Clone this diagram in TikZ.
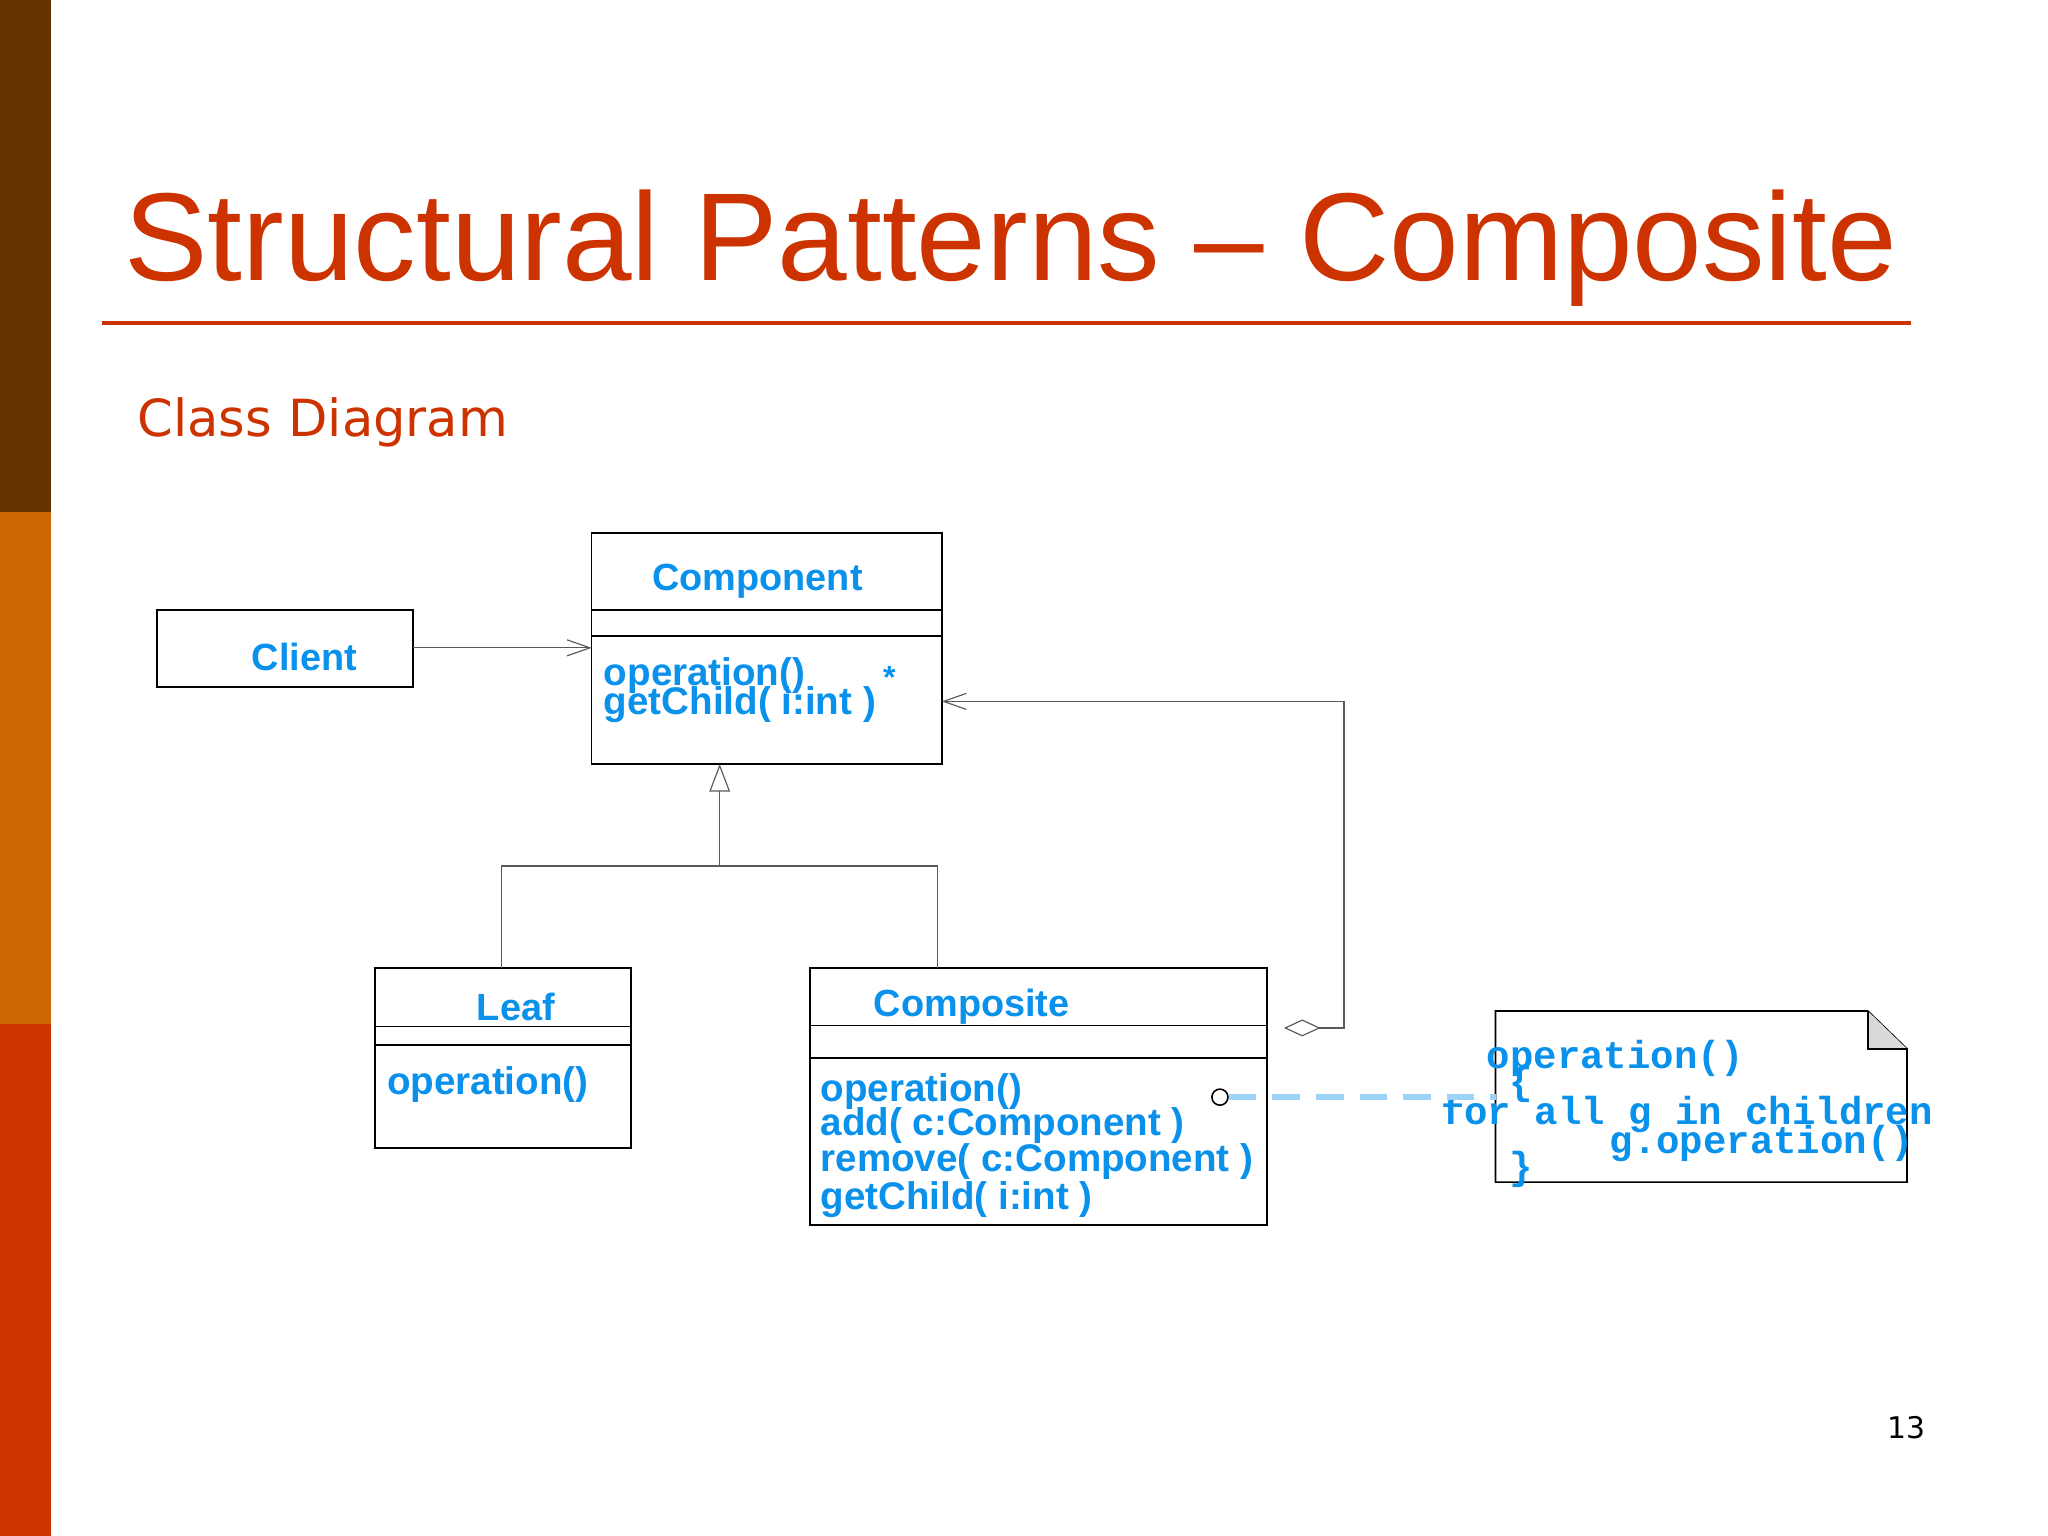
\documentclass[tikz,border=0pt]{standalone}
\usepackage{fontspec}
\setmainfont{Liberation Sans}
\newfontfamily\dejavu{DejaVu Sans}
\newfontfamily\mono{Liberation Mono}
\usetikzlibrary{arrows.meta}
\definecolor{umlblue}{RGB}{10,145,235}
\definecolor{titlered}{RGB}{204,51,0}
\definecolor{barbrown}{RGB}{102,51,0}
\definecolor{barorange}{RGB}{204,102,0}
\tikzset{
  cls/.style={draw=black,line width=0.7pt},
  clsname/.style={text=umlblue,font=\fontsize{16.5}{18}\selectfont\bfseries},
  op/.style={text=umlblue,font=\fontsize{16.8}{18}\selectfont\bfseries,anchor=base west,inner sep=0pt},
  conn/.style={draw=black!65,line width=0.5pt},
  note/.style={text=umlblue,font=\mono\fontsize{17}{18}\selectfont\bfseries,anchor=base west,inner sep=0pt}
}
\begin{document}
\begin{tikzpicture}[x=0.02cm,y=-0.02cm]
\useasboundingbox (0,0) rectangle (1568,1176);
\fill[white] (0,0) rectangle (1568,1176);
\fill[barbrown] (0,0) rectangle (39,392);
\fill[barorange] (0,392) rectangle (39,784);
\fill[titlered] (0,784) rectangle (39,1176);
\node[anchor=base west,inner sep=0pt,text=titlered,font=\fontsize{54.5}{60}\selectfont] (title) at (95,215) {Structural Patterns – Composite};
\draw[titlered,line width=1.7pt] (78,247) -- (1463,247);
\node[anchor=base west,inner sep=0pt,text=titlered,font=\dejavu\fontsize{22.3}{26}\selectfont] (sub) at (105,334) {Class Diagram};
% Component
\draw[cls] (453,408) rectangle (721,585);
\draw[cls] (453,467) -- (721,467) (453,487) -- (721,487);
\node[clsname] (compname) at (580,445) {Component};
\node[op] (c1) at (462,525) {operation()};
\node[op] (c2) at (462,547) {getChild( i:int )};
\node[text=umlblue,font=\fontsize{14}{14}\selectfont\bfseries] (star) at (681,519) {*};
\coordinate (compL) at (453,496);
\coordinate (compR) at (721,537);
\coordinate (compB) at (551,585);
% Client
\draw[cls] (120,467) rectangle (316,526);
\node[clsname] (client) at (233,503) {Client};
\coordinate (clientR) at (316,496);
\draw[conn,-{Straight Barb[length=10pt,width=7pt]}] (clientR) -- (compL);
% Leaf
\draw[cls] (287,741) rectangle (483,879);
\draw[cls] (287,786) -- (483,786) (287,800) -- (483,800);
\node[clsname] (leaf) at (395,771) {Leaf};
\node[op] (l1) at (296,838) {operation()};
\coordinate (leafT) at (384,741);
% Composite
\draw[cls] (620,741) rectangle (970,938);
\draw[cls] (620,785) -- (970,785) (620,810) -- (970,810);
\node[clsname] (compo) at (744,771) {Composite};
\node[op] (o1) at (628,843) {operation()};
\node[op] (o2) at (628,869) {add( c:Component )};
\node[op] (o3) at (628,897) {remove( c:Component )};
\node[op] (o4) at (628,926) {getChild( i:int )};
\coordinate (compoT) at (718,741);
% generalization
\draw[conn] (leafT) -- (384,663) -- (718,663) -- (compoT);
\draw[conn,-{Triangle[open,length=12pt,width=9pt]}] (551,663) -- (compB);
% aggregation
\coordinate (aggR) at (1010,787);
\draw[conn,-{Straight Barb[length=10pt,width=7pt]}] (aggR) -- (1029,787) -- (1029,537) -- (compR);
\draw[conn] (984,787) -- (997,781) -- (1010,787) -- (997,793) -- cycle;
% note
\draw[cls] (1145,774) -- (1430,774) -- (1460,803) -- (1460,905) -- (1145,905) -- cycle;
\fill[black!15] (1430,774) -- (1430,803) -- (1460,803) -- cycle;
\draw[cls] (1430,774) -- (1430,803) -- (1460,803);
\node[note] (n1) at (1138,818) {operation()};
\node[note] (n2) at (1155,838) {\{};
\node[note] (n3) at (1103,861) {for all g in children};
\node[note] (n4) at (1232,883) {g.operation()};
\node[note] (n5) at (1155,903) {\}};
\node[circle,draw=black,line width=0.7pt,minimum size=7pt,inner sep=0pt] (circ) at (934,840) {};
\coordinate (noteL) at (1145,840);
\draw[umlblue!40,line width=2.5pt,dash pattern=on 12pt off 7pt] (circ.east) -- (noteL);
\node[font=\dejavu\fontsize{13}{14}\selectfont] (pg) at (1460,1093) {13};
\end{tikzpicture}
\end{document}
